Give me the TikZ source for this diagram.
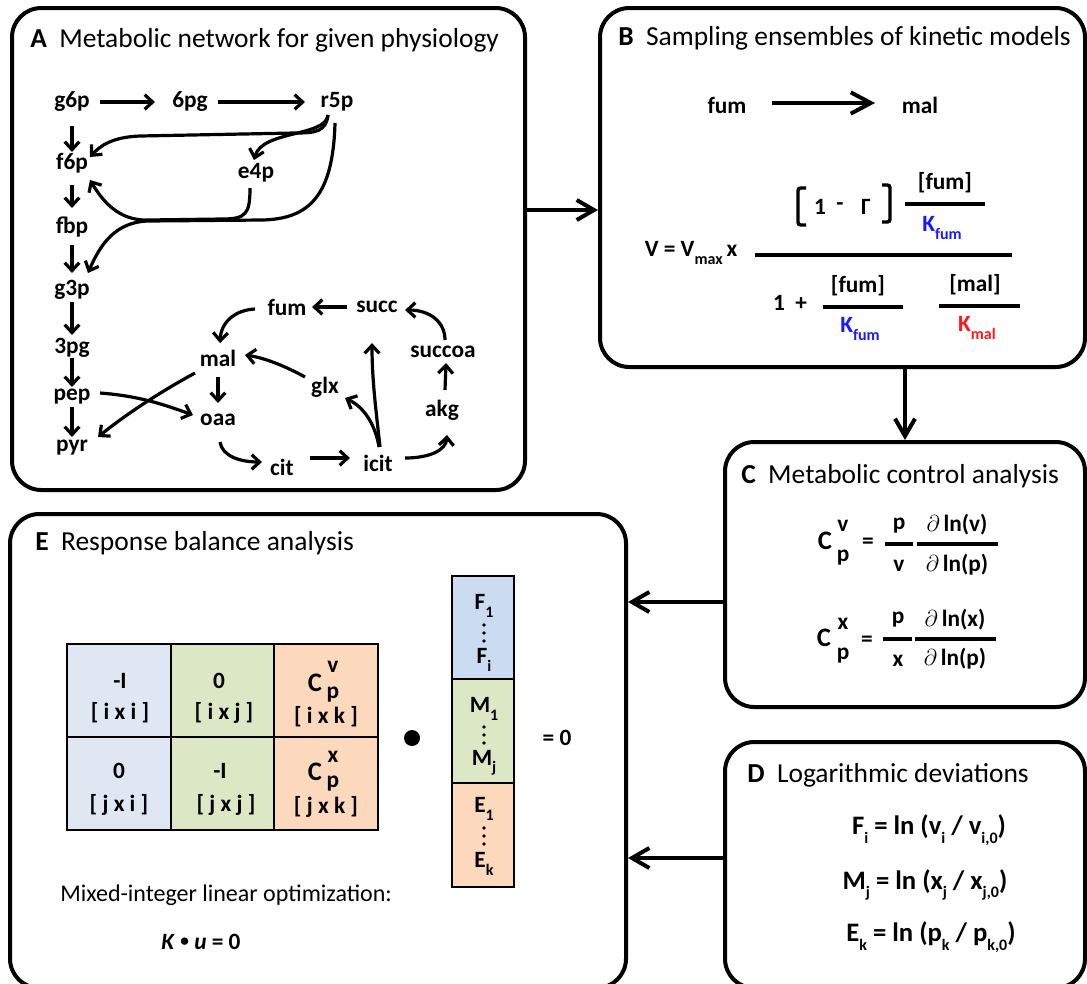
\documentclass[tikz,border=0pt]{standalone}
\usepackage{fontspec}
\setmainfont{Carlito}
\usetikzlibrary{arrows.meta,calc}

\newcommand\fsT{\fontsize{20.6}{24}\selectfont}
\newcommand\fsN{\fontsize{17.5}{21}\selectfont\bfseries}
\newcommand\fsL{\fontsize{20}{24}\selectfont\bfseries}
\newcommand\fsR{\fontsize{18}{22}\selectfont}
\newcommand\lsub[1]{\raisebox{-0.32em}{\fontsize{12}{14}\selectfont #1}}

\definecolor{mblue}{RGB}{223,231,243}
\definecolor{vblue}{RGB}{203,220,242}
\definecolor{mgreen}{RGB}{220,231,198}
\definecolor{morange}{RGB}{252,217,189}
\definecolor{kblue}{RGB}{25,25,255}
\definecolor{kred}{RGB}{255,25,25}

\tikzset{
  lbl/.style={font=\fsN, inner sep=2pt},
  eq/.style={font=\fsN, inner sep=0pt},
  eqL/.style={font=\fsL, inner sep=0pt},
  ttl/.style={anchor=base west, font=\fsT, inner sep=0pt},
  arr/.style={line width=2.4pt, -{Straight Barb[length=6pt,width=11pt]}},
  conn/.style={line width=3pt, -{Straight Barb[length=13pt,width=15pt]}},
  panel/.style={draw, line width=3pt, rounded corners=22pt, inner sep=0pt},
  bar/.style={line width=2.4pt},
  cell/.style={draw, line width=1.5pt},
}

\begin{document}
\begin{tikzpicture}[x=0.75pt,y=-0.75pt]
\useasboundingbox (0,0) rectangle (1087,983);
\clip (0,0) rectangle (1087,983);

% ---------- panels ----------
\node[panel, minimum width=384.75pt, minimum height=361.5pt] (boxA) at (268.5,249) {};
\node[panel, minimum width=363.75pt, minimum height=269.25pt] (boxB) at (842.5,187.5) {};
\node[panel, minimum width=270pt, minimum height=198.75pt] (boxC) at (905,574.5) {};
\node[panel, minimum width=270pt, minimum height=184.5pt] (boxD) at (905,865) {};
\node[panel, minimum width=462pt, minimum height=355.5pt] (boxE) at (318,751) {};

\node[ttl] (tA) at (30,47) {\textbf{A}\ \ Metabolic network for given physiology};
\node[ttl] (tB) at (618,45) {\textbf{B}\ \ Sampling ensembles of kinetic models};
\node[ttl] (tC) at (741,483) {\textbf{C}\ \ Metabolic control analysis};
\node[ttl] (tD) at (747,782) {\textbf{D}\ \ Logarithmic deviations};
\node[ttl] (tE) at (35,550) {\textbf{E}\ \ Response balance analysis};

% ---------- panel connectors ----------
\draw[conn] (boxA.east |- 0,210) -- (boxB.west |- 0,210);
\draw[conn] (905,0 |- boxB.south) -- (905,0 |- boxC.north);
\draw[conn] (boxC.west |- 0,602) -- (boxE.east |- 0,602);
\draw[conn] (boxD.west |- 0,858) -- (boxE.east |- 0,858);

% ---------- A: metabolic network ----------
\node[lbl] (g6p) at (72,102) {g6p};
\node[lbl] (pg6) at (190,102) {6pg};
\node[lbl] (r5p) at (337,102) {r5p};
\node[lbl] (f6p) at (72,163) {f6p};
\node[lbl] (e4p) at (256,173) {e4p};
\node[lbl] (fbp) at (72,227) {fbp};
\node[lbl] (g3p) at (72,290) {g3p};
\node[lbl] (pg3) at (72,348) {3pg};
\node[lbl] (pep) at (72,397) {pep};
\node[lbl] (pyr) at (72,448) {pyr};
\node[lbl] (fum) at (287,307) {fum};
\node[lbl] (succ) at (377,307) {succ};
\node[lbl] (mal) at (218,358) {mal};
\node[lbl] (succoa) at (443,352) {succoa};
\node[lbl] (glx) at (325,387) {glx};
\node[lbl] (akg) at (442,410) {akg};
\node[lbl] (oaa) at (218,420) {oaa};
\node[lbl] (cit) at (282,467) {cit};
\node[lbl] (icit) at (378,463) {icit};

\draw[arr] ($(g6p)+(28,0)$) -- ($(pg6)+(-35,0)$);
\draw[arr] ($(pg6)+(28,0)$) -- ($(r5p)+(-32,0)$);
\draw[arr] ($(g6p)+(0,24)$) -- ($(f6p)+(0,-11)$);
\draw[arr] ($(f6p)+(0,22)$) -- ($(fbp)+(0,-19)$);
\draw[arr] ($(fbp)+(0,18)$) -- ($(g3p)+(0,-17)$);
\draw[arr] ($(g3p)+(0,12)$) -- ($(pg3)+(0,-13)$);
\draw[arr] ($(pg3)+(0,10)$) -- ($(pep)+(0,-10)$);
\draw[arr] ($(pep)+(0,10)$) -- ($(pyr)+(0,-11)$);

% pentose phosphate branches
\draw[arr] ($(r5p)+(-9,13)$) .. controls (326,132) and (315,133) .. (295,133)
  -- (140,136) .. controls (112,137) and (100,146) .. ($(f6p)+(18,-6)$);
\draw[arr] ($(r5p)+(-9,13)$) .. controls (326,137) and (262,130) .. ($(e4p)+(-2,-13)$);
\draw[arr] ($(e4p)+(-6,15)$) .. controls (250,214) and (246,219) .. (222,219)
  -- (148,220) .. controls (118,221) and (102,200) .. ($(f6p)+(18,17)$);
\draw[arr] ($(r5p)+(-2,21)$) .. controls (333,195) and (310,219) .. (262,220)
  -- (148,221) .. controls (115,222) and (100,245) .. ($(g3p)+(16,-17)$);

% TCA cycle and glyoxylate shunt
\draw[arr] ($(succ)+(-30,0)$) -- ($(fum)+(25,0)$);
\draw[arr] ($(fum)+(-32,2)$) .. controls (235,310) and (221,322) .. ($(mal)+(2,-15)$);
\draw[arr] ($(mal)+(0,19)$) -- ($(oaa)+(0,-17)$);
\draw[arr] ($(glx)+(-20,-10)$) .. controls (285,366) and (265,358) .. ($(mal)+(27,-3)$);
\draw[arr] ($(akg)+(3,-20)$) -- ($(succoa)+(3,11)$);
\draw[arr] ($(succoa)+(2,-12)$) .. controls (445,322) and (430,310) .. ($(succ)+(28,3)$);
\draw[arr] ($(icit)+(27,-5)$) .. controls (430,458) and (446,450) .. ($(akg)+(5,25)$);
\draw[arr] ($(cit)+(28,-9)$) -- ($(icit)+(-28,-5)$);
\draw[arr] ($(oaa)+(2,22)$) .. controls (222,456) and (240,462) .. ($(cit)+(-20,-5)$);
\draw[arr] ($(icit)+(2,-16)$) .. controls (376,410) and (372,380) .. ($(succ)+(-5,36)$);
\draw[arr] ($(icit)+(1,-16)$) .. controls (376,428) and (366,408) .. ($(glx)+(20,11)$);
\draw[arr] ($(pep)+(28,-4)$) .. controls (140,396) and (165,405) .. ($(oaa)+(-25,-5)$);
\draw[arr] ($(mal)+(-23,15)$) .. controls (160,392) and (125,415) .. ($(pyr)+(26,-11)$);

% ---------- B: kinetic rate law ----------
\node[lbl] (fumB) at (727,105) {fum};
\node[lbl] (malB) at (920,105) {mal};
\draw[line width=3pt, -{Straight Barb[length=15pt,width=16pt]}] ($(fumB)+(45,-2)$) -- ($(malB)+(-45,-2)$);

\node[eq] (vlhs) at (691,253) {V = V\lsub{max}\,x};
\draw[line width=3pt] (755,255) -- (1012,255);
% numerator
\draw[line width=2.6pt, rounded corners=2pt] (806,188) -- (798,188) -- (798,225) -- (806,225);
\draw[line width=2.6pt, rounded corners=2pt] (882,185) -- (890,185) -- (890,222) -- (882,222);
\node[eq] (one1) at (820,207) {1};
\node[eq] (minus) at (840,207) {-};
\node[eq] (gam) at (866,207) {Γ};
\node[eq] (nfum) at (945,183) {[fum]};
\draw[bar] (905,204) -- (985,204);
\node[eq, text=kblue] (nk) at (942,228) {K\lsub{fum}};
% denominator
\node[eq] (onep) at (790,303) {1\ \ +};
\node[eq] (dfum) at (858,286) {[fum]};
\draw[bar] (823,307) -- (903,307);
\node[eq, text=kblue] (dkf) at (860,329) {K\lsub{fum}};
\node[eq] (dmal) at (975,285) {[mal]};
\draw[bar] (939,306) -- (1020,306);
\node[eq, text=kred] (dkm) at (977,328) {K\lsub{mal}};

% ---------- C: control coefficients ----------
\node[eqL] (c1C) at (825,541) {C};
\node[eq] (c1v) at (843,526) {v};
\node[eq] (c1p) at (843,558) {p};
\node[eq] (c1e) at (868,543) {=};
\node[eq] (c1n) at (899,526) {p};
\draw[bar] (885,544) -- (913,544);
\node[eq] (c1d) at (899,566) {v};
\node[eq] (c1N) at (957,525) {$\partial$\,ln(v)};
\draw[bar] (917,544) -- (998,544);
\node[eq] (c1D) at (957,565) {$\partial$\,ln(p)};

\node[eqL] (c2C) at (824,638) {C};
\node[eq] (c2x) at (843,624) {x};
\node[eq] (c2p) at (843,656) {p};
\node[eq] (c2e) at (867,641) {=};
\node[eq] (c2n) at (898,620) {p};
\draw[bar] (883,639) -- (912,639);
\node[eq] (c2d) at (898,661) {x};
\node[eq] (c2N) at (955,620) {$\partial$\,ln(x)};
\draw[bar] (915,639) -- (996,639);
\node[eq] (c2D) at (955,659) {$\partial$\,ln(p)};

% ---------- D: logarithmic deviations ----------
\node[eqL] (dF) at (929,830) {F\lsub{i} = ln (v\lsub{i} / v\lsub{i,0})};
\node[eqL] (dM) at (925,885) {M\lsub{j} = ln (x\lsub{j} / x\lsub{j,0})};
\node[eqL] (dE) at (931,937) {E\lsub{k} = ln (p\lsub{k} / p\lsub{k,0})};

% ---------- E: response balance ----------
\fill[mblue] (67,644) rectangle (171,830);
\fill[mgreen] (171,644) rectangle (274,830);
\fill[morange] (274,644) rectangle (378,830);
\draw[cell] (67,644) rectangle (378,830);
\draw[cell] (171,644) -- (171,830) (274,644) -- (274,830) (67,737) -- (378,737);

\node[eq] (m11a) at (120,681) {-I};
\node[eq] (m11b) at (120,713) {[ i x i ]};
\node[eq] (m12a) at (219,681) {0};
\node[eq] (m12b) at (224,713) {[ i x j ]};
\node[eqL] (m13a) at (315,683) {C};
\node[eq] (m13v) at (333,667) {v};
\node[eq] (m13p) at (333,695) {p};
\node[eq] (m13b) at (326,717) {[ i x k ]};
\node[eq] (m21a) at (119,771) {0};
\node[eq] (m21b) at (119,805) {[ j x i ]};
\node[eq] (m22a) at (220,771) {-I};
\node[eq] (m22b) at (226,805) {[ j x j ]};
\node[eqL] (m23a) at (315,772) {C};
\node[eq] (m23x) at (333,757) {x};
\node[eq] (m23p) at (333,784) {p};
\node[eq] (m23b) at (326,807) {[ j x k ]};

\fill (412,738) circle (8);

\fill[vblue] (452,576) rectangle (514,679);
\fill[mgreen] (452,679) rectangle (514,783);
\fill[morange] (452,783) rectangle (514,887);
\draw[cell] (452,576) rectangle (514,887);
\draw[cell] (452,679) -- (514,679) (452,783) -- (514,783);

\node[eq] (vF1) at (484,606) {F\lsub{1}};
\node[eq] (vFi) at (484,660) {F\lsub{i}};
\node[eq] (vM1) at (484,709) {M\lsub{1}};
\node[eq] (vMj) at (484,763) {M\lsub{j}};
\node[eq] (vE1) at (484,809) {E\lsub{1}};
\node[eq] (vEk) at (484,864) {E\lsub{k}};
% vertical ellipses between first and last entries
\foreach \yy in {625,633,641, 727,735,743, 828,836,844}
  \fill (484,\yy) circle (1.9);

\node[eq] (eqz) at (557,738) {= 0};

\node[anchor=west, font=\fsR, inner sep=0pt] (milp) at (60,895) {Mixed-integer linear optimization:};
\node[eq] (kuz) at (201,942) {\textit{K} \raisebox{0.12em}{\fontsize{13}{13}\selectfont •} \textit{u} = 0};
\end{tikzpicture}
\end{document}
